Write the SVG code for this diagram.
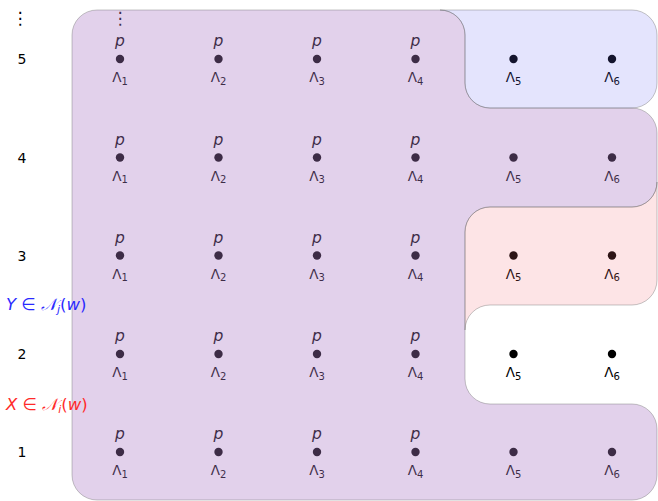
<svg xmlns="http://www.w3.org/2000/svg" width="658" height="501" viewBox="0 0 658 501">
  <style>
    .p { font-family: "DejaVu Sans", sans-serif; font-size: 15.5px; font-style: italic; fill: #000; text-anchor: middle; }
    .lam { font-family: "DejaVu Sans", sans-serif; font-size: 13.5px; fill: #000; text-anchor: middle; }
    .sub { font-size: 10px; }
    .dot { fill: #000; }
    .row { font-family: "DejaVu Sans", sans-serif; font-size: 14px; fill: #000; text-anchor: middle; }
    .vdots { font-family: "DejaVu Sans", sans-serif; font-size: 17px; fill: #000; text-anchor: middle; }
    .set { font-family: "DejaVu Sans", sans-serif; font-size: 16.5px; }
    .it { font-style: italic; }
    .region { stroke: #6f6f6f; stroke-opacity: 0.4; stroke-width: 1; }
  </style>
  <defs>
    <!-- node marker -->
    <circle id="pt" r="4.2" class="dot"/>
  </defs>

  <rect width="658" height="501" fill="#fff"/>

  <!-- continuation marks above column 1 -->
  <text class="vdots" x="120" y="24">⋮</text>

  <g id="nodes">
    <!-- row 5 -->
    <g id="n5-1"><text class="p" x="120" y="46">p</text><use href="#pt" x="120" y="59"/><text class="lam" x="120" y="82">Λ<tspan class="sub" dy="2.5">1</tspan></text></g>
    <g id="n5-2"><text class="p" x="218.5" y="46">p</text><use href="#pt" x="218.5" y="59"/><text class="lam" x="218.5" y="82">Λ<tspan class="sub" dy="2.5">2</tspan></text></g>
    <g id="n5-3"><text class="p" x="317" y="46">p</text><use href="#pt" x="317" y="59"/><text class="lam" x="317" y="82">Λ<tspan class="sub" dy="2.5">3</tspan></text></g>
    <g id="n5-4"><text class="p" x="415.5" y="46">p</text><use href="#pt" x="415.5" y="59"/><text class="lam" x="415.5" y="82">Λ<tspan class="sub" dy="2.5">4</tspan></text></g>
    <g id="n5-5"><use href="#pt" x="513.5" y="59"/><text class="lam" x="513.5" y="82">Λ<tspan class="sub" dy="2.5">5</tspan></text></g>
    <g id="n5-6"><use href="#pt" x="612" y="59"/><text class="lam" x="612" y="82">Λ<tspan class="sub" dy="2.5">6</tspan></text></g>
    <!-- row 4 -->
    <g id="n4-1"><text class="p" x="120" y="144.5">p</text><use href="#pt" x="120" y="157.5"/><text class="lam" x="120" y="180.5">Λ<tspan class="sub" dy="2.5">1</tspan></text></g>
    <g id="n4-2"><text class="p" x="218.5" y="144.5">p</text><use href="#pt" x="218.5" y="157.5"/><text class="lam" x="218.5" y="180.5">Λ<tspan class="sub" dy="2.5">2</tspan></text></g>
    <g id="n4-3"><text class="p" x="317" y="144.5">p</text><use href="#pt" x="317" y="157.5"/><text class="lam" x="317" y="180.5">Λ<tspan class="sub" dy="2.5">3</tspan></text></g>
    <g id="n4-4"><text class="p" x="415.5" y="144.5">p</text><use href="#pt" x="415.5" y="157.5"/><text class="lam" x="415.5" y="180.5">Λ<tspan class="sub" dy="2.5">4</tspan></text></g>
    <g id="n4-5"><use href="#pt" x="513.5" y="157.5"/><text class="lam" x="513.5" y="180.5">Λ<tspan class="sub" dy="2.5">5</tspan></text></g>
    <g id="n4-6"><use href="#pt" x="612" y="157.5"/><text class="lam" x="612" y="180.5">Λ<tspan class="sub" dy="2.5">6</tspan></text></g>
    <!-- row 3 -->
    <g id="n3-1"><text class="p" x="120" y="242.5">p</text><use href="#pt" x="120" y="255.5"/><text class="lam" x="120" y="278.5">Λ<tspan class="sub" dy="2.5">1</tspan></text></g>
    <g id="n3-2"><text class="p" x="218.5" y="242.5">p</text><use href="#pt" x="218.5" y="255.5"/><text class="lam" x="218.5" y="278.5">Λ<tspan class="sub" dy="2.5">2</tspan></text></g>
    <g id="n3-3"><text class="p" x="317" y="242.5">p</text><use href="#pt" x="317" y="255.5"/><text class="lam" x="317" y="278.5">Λ<tspan class="sub" dy="2.5">3</tspan></text></g>
    <g id="n3-4"><text class="p" x="415.5" y="242.5">p</text><use href="#pt" x="415.5" y="255.5"/><text class="lam" x="415.5" y="278.5">Λ<tspan class="sub" dy="2.5">4</tspan></text></g>
    <g id="n3-5"><use href="#pt" x="513.5" y="255.5"/><text class="lam" x="513.5" y="278.5">Λ<tspan class="sub" dy="2.5">5</tspan></text></g>
    <g id="n3-6"><use href="#pt" x="612" y="255.5"/><text class="lam" x="612" y="278.5">Λ<tspan class="sub" dy="2.5">6</tspan></text></g>
    <!-- row 2 -->
    <g id="n2-1"><text class="p" x="120" y="341">p</text><use href="#pt" x="120" y="354"/><text class="lam" x="120" y="377">Λ<tspan class="sub" dy="2.5">1</tspan></text></g>
    <g id="n2-2"><text class="p" x="218.5" y="341">p</text><use href="#pt" x="218.5" y="354"/><text class="lam" x="218.5" y="377">Λ<tspan class="sub" dy="2.5">2</tspan></text></g>
    <g id="n2-3"><text class="p" x="317" y="341">p</text><use href="#pt" x="317" y="354"/><text class="lam" x="317" y="377">Λ<tspan class="sub" dy="2.5">3</tspan></text></g>
    <g id="n2-4"><text class="p" x="415.5" y="341">p</text><use href="#pt" x="415.5" y="354"/><text class="lam" x="415.5" y="377">Λ<tspan class="sub" dy="2.5">4</tspan></text></g>
    <g id="n2-5"><use href="#pt" x="513.5" y="354"/><text class="lam" x="513.5" y="377">Λ<tspan class="sub" dy="2.5">5</tspan></text></g>
    <g id="n2-6"><use href="#pt" x="612" y="354"/><text class="lam" x="612" y="377">Λ<tspan class="sub" dy="2.5">6</tspan></text></g>
    <!-- row 1 -->
    <g id="n1-1"><text class="p" x="120" y="439">p</text><use href="#pt" x="120" y="452"/><text class="lam" x="120" y="475">Λ<tspan class="sub" dy="2.5">1</tspan></text></g>
    <g id="n1-2"><text class="p" x="218.5" y="439">p</text><use href="#pt" x="218.5" y="452"/><text class="lam" x="218.5" y="475">Λ<tspan class="sub" dy="2.5">2</tspan></text></g>
    <g id="n1-3"><text class="p" x="317" y="439">p</text><use href="#pt" x="317" y="452"/><text class="lam" x="317" y="475">Λ<tspan class="sub" dy="2.5">3</tspan></text></g>
    <g id="n1-4"><text class="p" x="415.5" y="439">p</text><use href="#pt" x="415.5" y="452"/><text class="lam" x="415.5" y="475">Λ<tspan class="sub" dy="2.5">4</tspan></text></g>
    <g id="n1-5"><use href="#pt" x="513.5" y="452"/><text class="lam" x="513.5" y="475">Λ<tspan class="sub" dy="2.5">5</tspan></text></g>
    <g id="n1-6"><use href="#pt" x="612" y="452"/><text class="lam" x="612" y="475">Λ<tspan class="sub" dy="2.5">6</tspan></text></g>
  </g>

  <!-- translucent regions laid over the grid -->
  <g id="regions">
    <path id="region-purple" class="region" fill="rgb(173,125,198)" fill-opacity="0.353"
      d="M97 10 H440 A25 25 0 0 1 465 35 V83 A25 25 0 0 0 490 108 H632 A25 25 0 0 1 657 133 V182 A25 25 0 0 1 632 207 H490 A25 25 0 0 0 465 232 V379 A25 25 0 0 0 490 404 H632 A25 25 0 0 1 657 429 V475 A25 25 0 0 1 632 500 H97 A25 25 0 0 1 72 475 V35 A25 25 0 0 1 97 10 Z"/>
    <path id="region-blue" class="region" fill="rgb(109,109,245)" fill-opacity="0.184"
      d="M440 10 H632 A25 25 0 0 1 657 35 V83 A25 25 0 0 1 632 108 H490 A25 25 0 0 1 465 83 V35 A25 25 0 0 0 440 10 Z"/>
    <path id="region-pink" class="region" fill="rgb(245,109,120)" fill-opacity="0.184"
      d="M490 207 H632 A25 25 0 0 0 657 182 V280 A25 25 0 0 1 632 305 H490 A25 25 0 0 0 465 330 V232 A25 25 0 0 1 490 207 Z"/>
  </g>

  <!-- row axis and set labels -->
  <g id="labels">
    <text class="vdots" x="20" y="24">⋮</text>
    <text class="row" x="22" y="64">5</text>
    <text class="row" x="22" y="162.5">4</text>
    <text class="row" x="22" y="260.5">3</text>
    <text class="row" x="22" y="359">2</text>
    <text class="row" x="22" y="457">1</text>
    <text class="set" x="6" y="309.5" fill="#2a2aff"><tspan class="it">Y</tspan> ∈ <tspan class="it">𝒩</tspan><tspan class="it" font-size="11" dy="3">j</tspan><tspan dy="-3">(</tspan><tspan class="it">w</tspan>)</text>
    <text class="set" x="6" y="409.5" fill="#ff2a2a"><tspan class="it">X</tspan> ∈ <tspan class="it">𝒩</tspan><tspan class="it" font-size="11" dy="3">i</tspan><tspan dy="-3">(</tspan><tspan class="it">w</tspan>)</text>
  </g>
</svg>
